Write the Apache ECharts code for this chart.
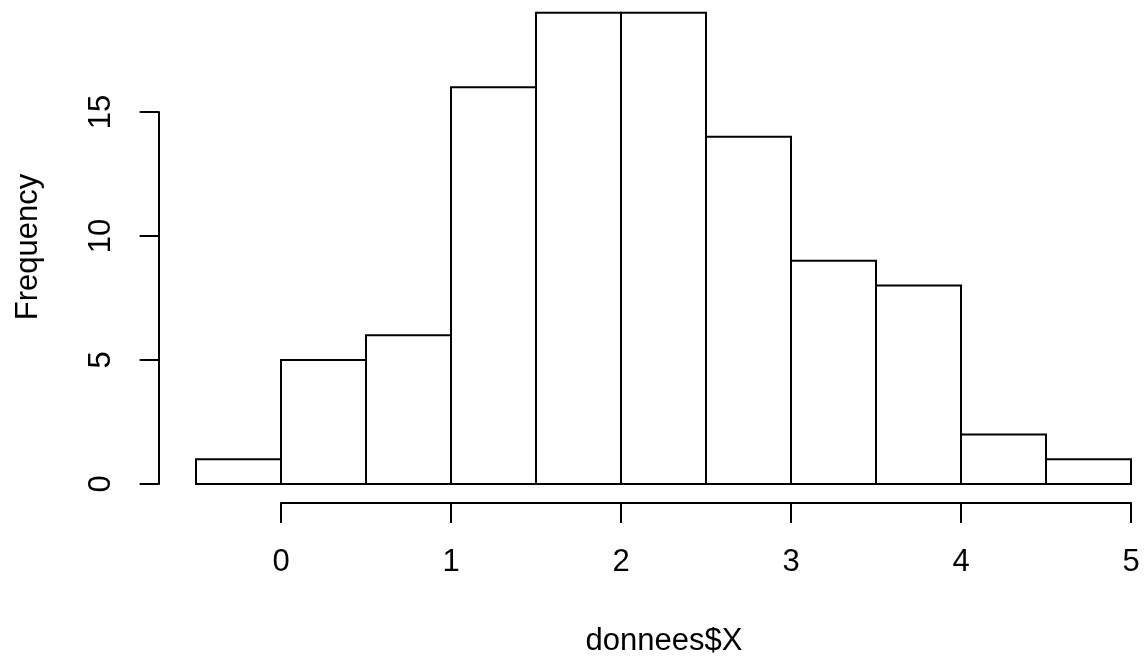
<!DOCTYPE html>
<html>
<head>
<meta charset="utf-8">
<script src="https://cdn.jsdelivr.net/npm/echarts@6/dist/echarts.min.js"></script>
<style>
  html, body { margin: 0; padding: 0; background: #fff; }
  #chart { width: 1145px; height: 660px; }
</style>
</head>
<body>
<div id="chart"></div>
<script>
// histogram bins (left edges) and counts
const binStarts = [-0.5, 0, 0.5, 1, 1.5, 2, 2.5, 3, 3.5, 4, 4.5];
const binWidth = 0.5;
const counts = [1, 5, 6, 16, 19, 19, 14, 9, 8, 2, 1];
const xTicks = [0, 1, 2, 3, 4, 5];
const yTicks = [0, 5, 10, 15];

const FONT = "Liberation Sans, Arial, Helvetica, sans-serif";
const FS = 31;

let chart = echarts.init(document.getElementById("chart"));

let histData = binStarts.map(function (b, i) {
  return [b, b + binWidth, counts[i]];
});

let option = {
  animation: false,
  backgroundColor: "#fff",
  grid: [
    // plot area for the bars: x -0.5..5, y 0..19
    { left: 196, width: 935, top: 12.8, height: 471.2 },
    // x axis, drawn only over 0..5
    { left: 281, width: 850, top: 502, height: 1 },
    // y axis, drawn only over 0..15
    { left: 158.6, width: 1, top: 112, height: 372 },
  ],
  xAxis: [
    { gridIndex: 0, type: "value", min: -0.5, max: 5, show: false },
    {
      gridIndex: 1,
      type: "value",
      min: xTicks[0],
      max: xTicks[xTicks.length - 1],
      interval: 1,
      position: "bottom",
      axisLine: { show: true, lineStyle: { color: "#000", width: 2 } },
      axisTick: { show: true, length: 20, lineStyle: { color: "#000", width: 2 } },
      axisLabel: {
        show: true,
        margin: 44,
        color: "#000",
        fontFamily: FONT,
        fontSize: FS,
        showMinLabel: true,
        showMaxLabel: true,
      },
      splitLine: { show: false },
    },
    { gridIndex: 2, type: "value", show: false },
  ],
  yAxis: [
    { gridIndex: 0, type: "value", min: 0, max: 19, show: false },
    { gridIndex: 1, type: "value", show: false },
    {
      gridIndex: 2,
      type: "value",
      min: yTicks[0],
      max: yTicks[yTicks.length - 1],
      interval: 5,
      position: "left",
      axisLine: { show: true, lineStyle: { color: "#000", width: 2 } },
      axisTick: { show: true, length: 19, lineStyle: { color: "#000", width: 2 } },
      axisLabel: {
        show: true,
        rotate: 90,
        margin: 42,
        color: "#000",
        fontFamily: FONT,
        fontSize: FS,
        showMinLabel: true,
        showMaxLabel: true,
      },
      splitLine: { show: false },
    },
  ],
  series: [
    {
      type: "custom",
      xAxisIndex: 0,
      yAxisIndex: 0,
      data: histData,
      encode: { x: [0, 1], y: 2 },
      renderItem: function (params, api) {
        let p0 = api.coord([api.value(0), api.value(2)]);
        let p1 = api.coord([api.value(1), 0]);
        return {
          type: "rect",
          shape: { x: p0[0], y: p0[1], width: p1[0] - p0[0], height: p1[1] - p0[1] },
          style: { fill: "#fff", stroke: "#000", lineWidth: 2 },
        };
      },
    },
  ],
  graphic: [
    {
      type: "text",
      x: 664,
      y: 641,
      style: {
        text: "donnees$X",
        fontFamily: FONT,
        fontSize: FS,
        fill: "#000",
        align: "center",
        verticalAlign: "middle",
      },
    },
    {
      type: "text",
      x: 28,
      y: 247,
      rotation: Math.PI / 2,
      style: {
        text: "Frequency",
        fontFamily: FONT,
        fontSize: FS,
        fill: "#000",
        align: "center",
        verticalAlign: "middle",
      },
    },
  ],
};

chart.setOption(option);
</script>
</body>
</html>
